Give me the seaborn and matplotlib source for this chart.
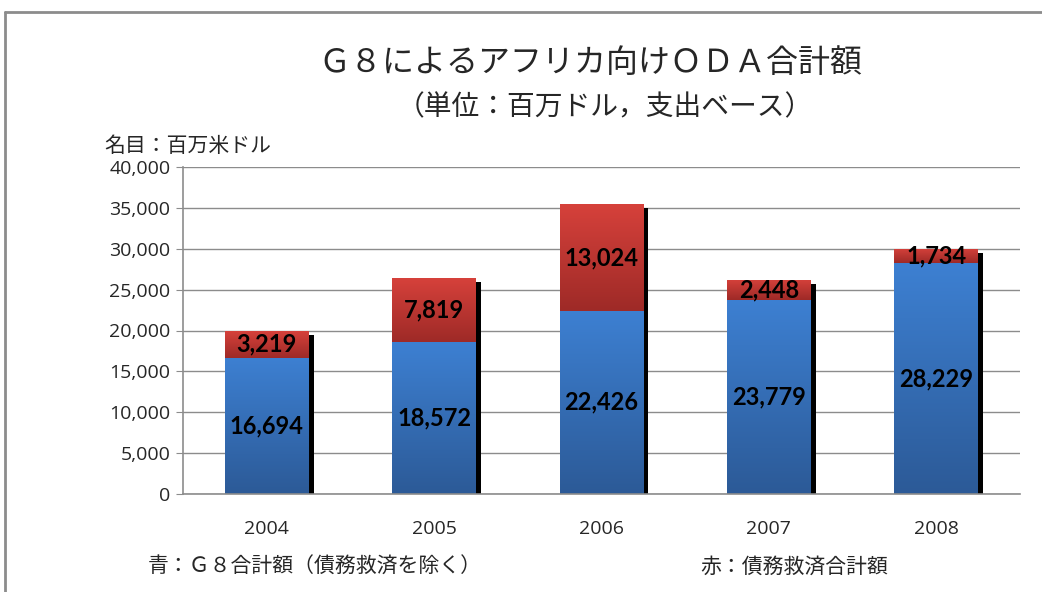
import numpy as np
import pandas as pd
import matplotlib
matplotlib.use("Agg")
import matplotlib.pyplot as plt
import matplotlib.transforms as mtransforms
from matplotlib.lines import Line2D
from matplotlib.ticker import FuncFormatter
import seaborn as sns

years = ["2004", "2005", "2006", "2007", "2008"]
g8_excl_debt = [16694, 18572, 22426, 23779, 28229]
debt_relief = [3219, 7819, 13024, 2448, 1734]

title = "Ｇ８によるアフリカ向けＯＤＡ合計額"
subtitle = "（単位：百万ドル，支出ベース）"
unit_label = "名目：百万米ドル"
note_blue = "青：Ｇ８合計額（債務救済を除く）"
note_red = "赤：債務救済合計額"

sns.set_style("white")
plt.rcParams["font.family"] = ["Noto Sans CJK JP", "DejaVu Sans"]

df = pd.DataFrame({"year": years, "blue": g8_excl_debt, "red": debt_relief})
df["total"] = df["blue"] + df["red"]

fig = plt.figure(figsize=(10.42, 5.92), dpi=100)
ax = fig.add_axes([183 / 1042, 1 - 494 / 592, (1020 - 183) / 1042, (494 - 167) / 592])

bar_kw = dict(width=0.5, ax=ax, saturation=1, errorbar=None, edgecolor="none", linewidth=0)

# shadow bars, shifted right/down a few pixels
sns.barplot(data=df, x="year", y="total", color="black", **bar_kw)
n_shadow = len(ax.patches)
offset = mtransforms.ScaledTranslation(5 / 100, -4 / 100, fig.dpi_scale_trans)
for p in ax.patches[:n_shadow]:
    p.set_transform(ax.transData + offset)

sns.barplot(data=df, x="year", y="blue", color="#3a7bc8", **bar_kw)
blue_bars = ax.patches[n_shadow:]
sns.barplot(data=df, x="year", y="red", bottom=df["blue"], color="#c93a36", **bar_kw)
red_bars = ax.patches[n_shadow + len(blue_bars):]


def gradient(patches, top, bottom):
    grad = np.linspace(0, 1, 256).reshape(-1, 1)
    cmap = matplotlib.colors.LinearSegmentedColormap.from_list("g", [top, bottom])
    for p in patches:
        x0, y0 = p.get_x(), p.get_y()
        w, h = p.get_width(), p.get_height()
        im = ax.imshow(grad, cmap=cmap, aspect="auto", extent=(x0, x0 + w, y0, y0 + h),
                       origin="upper", zorder=p.get_zorder() + 0.1)
        im.set_clip_path(p)


gradient(blue_bars, "#3d80d2", "#2c5a97")
gradient(red_bars, "#d6413b", "#9e2a27")
ax.set_xlim(-0.5, 4.5)
ax.set_ylim(0, 40000)

for i, (b, r) in enumerate(zip(g8_excl_debt, debt_relief)):
    ax.text(i, b / 2, f"{b:,}", ha="center", va="center", fontsize=17,
            fontweight="bold", family=["Lato", "DejaVu Sans"], color="black", zorder=10)
    ax.text(i, b + r / 2, f"{r:,}", ha="center", va="center", fontsize=17,
            fontweight="bold", family=["Lato", "DejaVu Sans"], color="black", zorder=10)

ax.yaxis.set_major_formatter(FuncFormatter(lambda v, _: f"{int(v):,}"))
ax.set_yticks(range(0, 40001, 5000))
ax.grid(axis="y", color="#8c8c8c", linewidth=1)
ax.set_axisbelow(True)
ax.set_xlabel("")
ax.set_ylabel("")
for s in ["top", "right"]:
    ax.spines[s].set_visible(False)
for s in ["left", "bottom"]:
    ax.spines[s].set_color("#8c8c8c")
    ax.spines[s].set_linewidth(1.2)
ax.tick_params(axis="y", left=True, length=5, color="#8c8c8c", pad=4, labelsize=14)
ax.tick_params(axis="x", bottom=False, pad=15, labelsize=14)
for lab in ax.get_xticklabels() + ax.get_yticklabels():
    lab.set_family(["Open Sans", "DejaVu Sans"])

fig.text(590 / 1042, 1 - 63 / 592, title, ha="center", va="center", fontsize=23)
fig.text(605 / 1042, 1 - 107 / 592, subtitle, ha="center", va="center", fontsize=20)
fig.text(104 / 1042, 1 - 146 / 592, unit_label, ha="left", va="center", fontsize=15)
fig.text(148 / 1042, 1 - 567 / 592, note_blue, ha="left", va="center", fontsize=15)
fig.text(700 / 1042, 1 - 567 / 592, note_red, ha="left", va="center", fontsize=15)

# outer frame
fig.add_artist(Line2D([5 / 1042, 1], [1 - 12 / 592, 1 - 12 / 592], color="#8c8c8c", lw=2,
                      transform=fig.transFigure))
fig.add_artist(Line2D([5 / 1042, 5 / 1042], [0, 1 - 12 / 592], color="#8c8c8c", lw=2,
                      transform=fig.transFigure))

fig.savefig("out.png", dpi=100)
